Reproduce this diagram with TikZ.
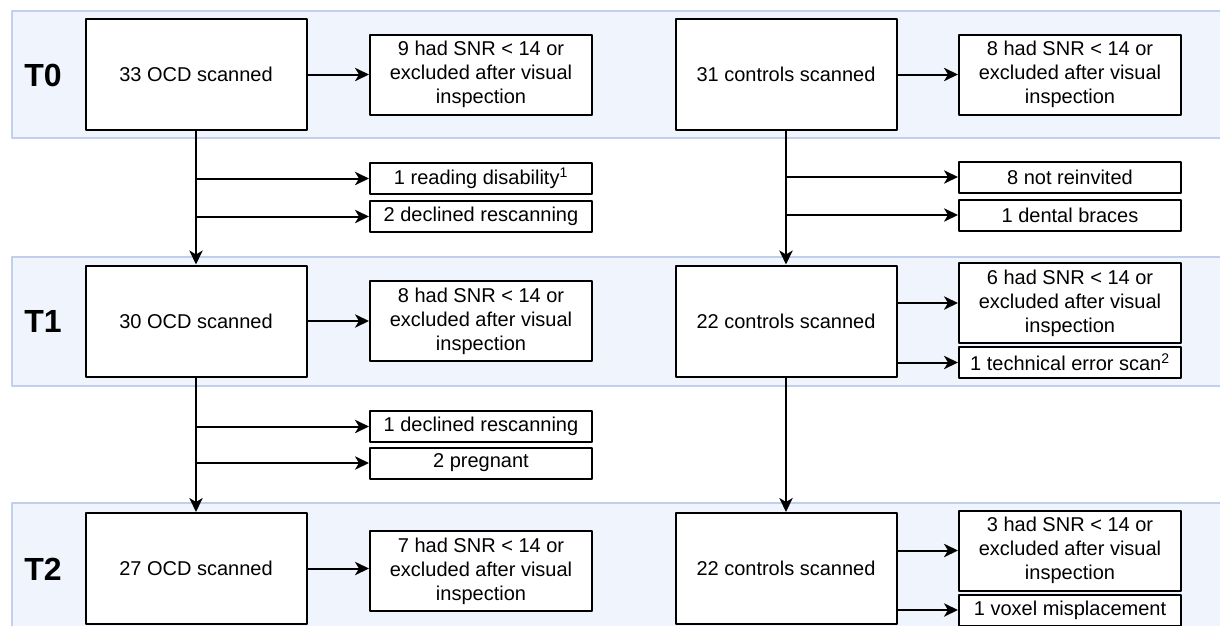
\documentclass[tikz,border=0pt]{standalone}
\usepackage{fontspec}
\setmainfont{Liberation Sans}
\usetikzlibrary{arrows.meta}

\definecolor{bandfill}{RGB}{240,245,253}
\definecolor{bandline}{RGB}{192,208,236}

\begin{document}
\begin{tikzpicture}[
    line join=round,
    % pixel grid of the flow chart, y runs downwards
    x=0.75pt, y=-0.75pt,
    font=\fontsize{15}{18}\selectfont
]

% ---------------------------------------------------------
% 1. FRAME (1220 x 625)
% ---------------------------------------------------------
\path [use as bounding box] (0,0) rectangle (1220,625);
\clip (0,0) rectangle (1220,625);

\tikzset{band/.style={fill=bandfill, draw=bandline, line width=1pt}}
\tikzset{stage label/.style={font=\fontsize{24}{28}\selectfont\bfseries}}
\tikzset{main box/.style={draw, fill=white, line width=1.5pt,
    minimum width=165.75pt, minimum height=83.25pt, inner sep=0pt}}
\tikzset{excl box/.style={draw, fill=white, line width=1.5pt, align=center,
    minimum width=166.5pt, minimum height=60pt, inner sep=0pt}}
\tikzset{small box/.style={draw, fill=white, line width=1.5pt,
    minimum width=166.5pt, minimum height=23.25pt, inner sep=0pt}}
\tikzset{flow/.style={line width=1.5pt,
    -{Stealth[length=10.5pt, width=10pt, inset=3pt]}}}

% Time point bands (open to the right)
\draw[band] (12,11)  rectangle (1240,138);  % T0
\draw[band] (12,257) rectangle (1240,386);  % T1
\draw[band] (12,503) rectangle (1240,660);  % T2

\node[stage label] (t0) at (43,75)  {T0};
\node[stage label] (t1) at (43,321) {T1};
\node[stage label] (t2) at (43,569) {T2};

% ---------------------------------------------------------
% 2. BOXES
% ---------------------------------------------------------
% T0
\node[main box] (ocd0) at (196,74.5) {33 OCD scanned};
\node[excl box] (ex0)  at (481,74.5) {9 had SNR < 14 or\\excluded after visual\\inspection};
\node[main box] (con0) at (786,74.5) {31 controls scanned};
\node[excl box] (cx0)  at (1070,74.5) {8 had SNR < 14 or\\excluded after visual\\inspection};

% drop-outs T0 -> T1
\node[small box] (ocdA) at (481,178.5)  {1 reading disability\textsuperscript{1}};
\node[small box] (ocdB) at (481,216.5)  {2 declined rescanning};
\node[small box] (conA) at (1070,177)   {8 not reinvited};
\node[small box] (conB) at (1070,215)   {1 dental braces};

% T1
\node[main box] (ocd1) at (196,321)  {30 OCD scanned};
\node[excl box] (ex1)  at (481,321)  {8 had SNR < 14 or\\excluded after visual\\inspection};
\node[main box] (con1) at (786,321)  {22 controls scanned};
\node[excl box] (cx1)  at (1070,303) {6 had SNR < 14 or\\excluded after visual\\inspection};
\node[small box] (cx1b) at (1070,362.5) {1 technical error scan\textsuperscript{2}};

% drop-outs T1 -> T2
\node[small box] (ocdC) at (481,426.5) {1 declined rescanning};
\node[small box] (ocdD) at (481,463)   {2 pregnant};

% T2
\node[main box] (ocd2) at (196,568.5)  {27 OCD scanned};
\node[excl box] (ex2)  at (481,571)    {7 had SNR < 14 or\\excluded after visual\\inspection};
\node[main box] (con2) at (786,568.5)  {22 controls scanned};
\node[excl box] (cx2)  at (1070,550.5) {3 had SNR < 14 or\\excluded after visual\\inspection};
\node[small box] (cx2b) at (1070,610)  {1 voxel misplacement};

% ---------------------------------------------------------
% 3. ARROWS
% ---------------------------------------------------------
% exclusions within a time point
\draw[flow] (ocd0) -- (ex0);
\draw[flow] (con0) -- (cx0);
\draw[flow] (ocd1) -- (ex1);
\draw[flow] (con1.east |- cx1.west)  -- (cx1.west);
\draw[flow] (con1.east |- cx1b.west) -- (cx1b.west);
\draw[flow] (ocd2.east) -- (ocd2.east -| ex2.west);
\draw[flow] (con2.east |- cx2.west)  -- (cx2.west);
\draw[flow] (con2.east |- cx2b.west) -- (cx2b.west);

% follow-up lines
\draw[flow] (ocd0) -- (ocd1);
\draw[flow] (ocd1) -- (ocd2);
\draw[flow] (con0) -- (con1);
\draw[flow] (con1) -- (con2);

% drop-outs branching off
\draw[flow] (ocd0.south |- ocdA.west) -- (ocdA.west);
\draw[flow] (ocd0.south |- ocdB.west) -- (ocdB.west);
\draw[flow] (con0.south |- conA.west) -- (conA.west);
\draw[flow] (con0.south |- conB.west) -- (conB.west);
\draw[flow] (ocd1.south |- ocdC.west) -- (ocdC.west);
\draw[flow] (ocd1.south |- ocdD.west) -- (ocdD.west);

\end{tikzpicture}
\end{document}
